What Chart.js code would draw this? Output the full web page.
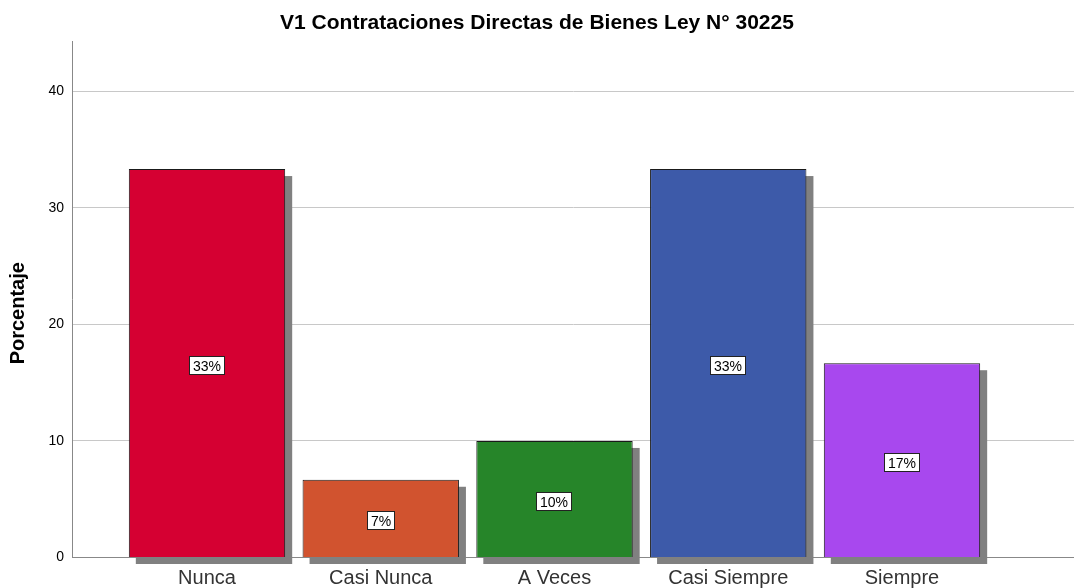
<!DOCTYPE html>
<html>
<head>
<meta charset="utf-8">
<script src="https://cdn.jsdelivr.net/npm/chart.js@4"></script>
<style>
html,body{margin:0;padding:0;background:#fff;}
#wrap{width:1074px;height:588px;position:relative;}
</style>
</head>
<body>
<div id="wrap"><canvas id="c" width="1074" height="588"></canvas></div>
<script>
const categories = ['Nunca', 'Casi Nunca', 'A Veces', 'Casi Siempre', 'Siempre'];
const percentages = [33.33, 6.67, 10.0, 33.33, 16.67];
const percentLabels = ['33%', '7%', '10%', '33%', '17%'];
const barColors = ['#D50032', '#D1532F', '#268529', '#3D5AA9', '#A848EE'];
const yTicks = [0, 10, 20, 30, 40];

const FONT = "'Liberation Sans', Arial, sans-serif";

const shadowPlugin = {
  id: 'shadow',
  beforeDatasetsDraw(chart) {
    const ctx = chart.ctx;
    const meta = chart.getDatasetMeta(0);
    ctx.save();
    ctx.fillStyle = '#808080';
    meta.data.forEach(el => {
      const w = el.width;
      const top = el.y, bottom = el.base;
      ctx.fillRect(el.x - w / 2 + 7, top + 7, w, bottom - top);
    });
    ctx.restore();
  },
  afterDatasetsDraw(chart) {
    const ctx = chart.ctx;
    const meta = chart.getDatasetMeta(0);
    ctx.save();
    ctx.font = '14px ' + FONT;
    ctx.textAlign = 'center';
    ctx.textBaseline = 'middle';
    meta.data.forEach((el, i) => {
      const txt = percentLabels[i];
      const cy = Math.round((el.y + el.base) / 2) + 3;
      const cx = Math.round(el.x);
      const tw = ctx.measureText(txt).width;
      const bw = Math.round(tw + 8), bh = 19;
      const x0 = cx - Math.round(bw / 2), y0 = cy - Math.round(bh / 2);
      ctx.fillStyle = '#ffffff';
      ctx.fillRect(x0, y0, bw, bh);
      ctx.strokeStyle = '#222222';
      ctx.lineWidth = 1;
      ctx.strokeRect(x0 + 0.5, y0 + 0.5, bw - 1, bh - 1);
      ctx.fillStyle = '#000000';
      ctx.fillText(txt, cx, cy + 1);
    });
    ctx.restore();
  }
};

new Chart(document.getElementById('c'), {
  type: 'bar',
  data: {
    datasets: [{
      data: percentages.map((v, i) => ({ x: i, y: v })),
      backgroundColor: barColors,
      borderColor: '#1a1a1a',
      borderWidth: 1,
      barPercentage: 0.9,
      categoryPercentage: 1.0
    }]
  },
  options: {
    responsive: false,
    animation: false,
    devicePixelRatio: 1,
    layout: { padding: { left: 0, right: 0, top: 0, bottom: 0 } },
    plugins: {
      legend: { display: false },
      tooltip: { enabled: false },
      title: {
        display: true,
        text: 'V1 Contrataciones Directas de Bienes Ley N° 30225',
        color: '#000',
        font: { family: FONT, size: 21, weight: 'bold' },
        padding: { top: 11, bottom: 5 }
      }
    },
    scales: {
      x: {
        type: 'linear',
        offset: false,
        min: -0.777,
        max: 4.99,
        afterFit(s) { s.height = 30.5; },
        afterBuildTicks(s) { s.ticks = categories.map((c, i) => ({ value: i })); },
        grid: { display: false, drawTicks: false, offset: false },
        border: { display: true, color: '#888888', width: 1 },
        ticks: {
          autoSkip: false,
          maxRotation: 0,
          padding: 9,
          color: '#333333',
          font: { family: FONT, size: 20 },
          callback: (v) => categories[v] ?? ''
        }
      },
      y: {
        min: 0,
        max: 44.3,
        afterFit(s) { s.width = 72; },
        afterBuildTicks(s) { s.ticks = yTicks.map(v => ({ value: v })); },
        grid: { color: '#c8c8c8', drawTicks: false, lineWidth: 1 },
        border: { display: true, color: '#888888', width: 1 },
        ticks: {
          padding: 8,
          color: '#000',
          font: { family: FONT, size: 14 }
        },
        title: {
          display: true,
          text: 'Porcentaje     ',
          color: '#000',
          font: { family: FONT, size: 20, weight: 'bold' },
          padding: { top: 6, bottom: 4 }
        }
      }
    }
  },
  plugins: [shadowPlugin]
});
</script>
</body>
</html>
